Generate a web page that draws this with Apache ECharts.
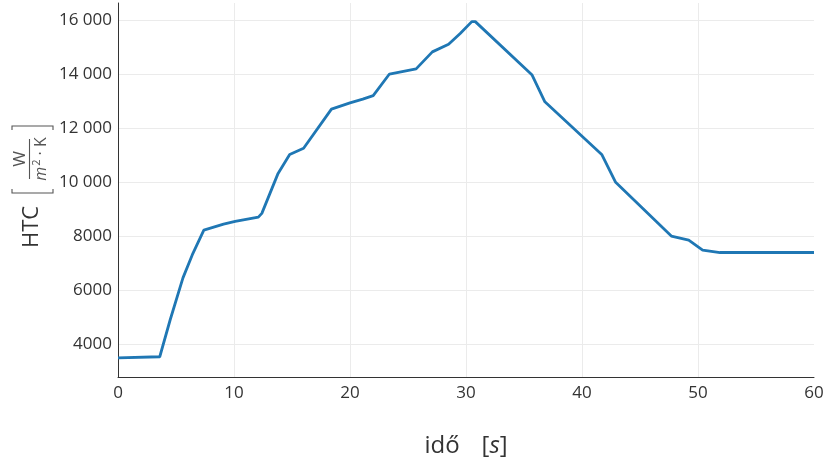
<!DOCTYPE html>
<html>
<head>
<meta charset="utf-8">
<script src="https://cdn.jsdelivr.net/npm/echarts@6/dist/echarts.min.js"></script>
<style>
  html, body { margin: 0; padding: 0; background: #fff; }
  #chart { width: 827px; height: 464px; }
</style>
</head>
<body>
<div id="chart"></div>
<script>
// Heat transfer coefficient over time
const timeS = [0, 3.6, 4.5, 5.6, 6.4, 7.4, 9.1, 10.1, 12.1, 12.4, 13.8, 14.8, 16.0, 18.4, 20.0, 21.1, 22.0, 23.4, 25.7, 27.1, 28.5, 29.5, 30.5, 30.8, 35.7, 36.8, 41.7, 42.9, 47.7, 49.2, 50.4, 51.9, 60];
const htcValues = [3490, 3530, 4900, 6450, 7300, 8220, 8440, 8540, 8700, 8840, 10320, 11020, 11250, 12700, 12930, 13070, 13200, 14000, 14190, 14820, 15100, 15500, 15940, 15940, 13960, 12970, 11020, 9990, 8000, 7850, 7480, 7390, 7390];
const yTicks = [4000, 6000, 8000, 10000, 12000, 14000, 16000];
const xTicks = [0, 10, 20, 30, 40, 50, 60];

const FONT = '"Open Sans", "Noto Sans", sans-serif';
const INK = '#333';

function fmtThousands(v) {
  const s = String(Math.round(v));
  if (s.length < 5) return s;
  return s.replace(/\B(?=(\d{3})+(?!\d))/g, ' ');
}

const chart = echarts.init(document.getElementById('chart'), null, { renderer: 'canvas' });

const option = {
  animation: false,
  backgroundColor: '#fff',
  grid: { left: 118, right: 13, top: 3, bottom: 87, containLabel: false, outerBoundsMode: 'none' },
  xAxis: {
    type: 'value',
    min: xTicks[0],
    max: xTicks[xTicks.length - 1],
    interval: 10,
    name: 'idő{gap|}[{it|s}]',
    nameLocation: 'middle',
    nameGap: 57,
    nameTextStyle: {
      fontFamily: FONT, fontSize: 24, color: INK,
      rich: {
        it: { fontFamily: FONT, fontSize: 24, fontStyle: 'italic', color: INK },
        gap: { width: 22 }
      }
    },
    axisLine: { show: true, lineStyle: { color: '#333', width: 1 } },
    axisTick: { show: false },
    axisLabel: { fontFamily: FONT, fontSize: 17, color: INK, margin: 8 },
    splitLine: { show: true, showMinLine: false, showMaxLine: false, lineStyle: { color: '#ebebeb', width: 1 } }
  },
  yAxis: {
    type: 'value',
    min: 2780,
    max: 16630,
    splitNumber: 7,
    axisLine: { show: true, lineStyle: { color: '#333', width: 1 } },
    axisTick: { show: false },
    axisLabel: {
      fontFamily: FONT, fontSize: 17, color: INK, margin: 6,
      showMinLabel: false, showMaxLabel: false,
      formatter: function (v) { return yTicks.indexOf(v) >= 0 ? fmtThousands(v) : ''; }
    },
    splitLine: { show: true, showMinLine: false, showMaxLine: false, lineStyle: { color: '#ebebeb', width: 1 } }
  },
  series: [{
    type: 'line',
    data: timeS.map((t, i) => [t, htcValues[i]]),
    showSymbol: false,
    lineStyle: { color: '#1f77b4', width: 2.8 },
    itemStyle: { color: '#1f77b4' },
    z: 3
  }],
  graphic: [{
    // rotated y-axis title: HTC [ W / (m²·K) ]
    type: 'group',
    x: 32,
    y: 186,
    rotation: Math.PI / 2,
    children: [
      { type: 'text', x: -62, y: 0, style: { text: 'HTC', fontFamily: FONT, fontSize: 22, fill: INK, align: 'left', verticalAlign: 'middle' } },
      { type: 'polyline', shape: { points: [[-3, -20], [-7, -20], [-7, 21], [-3, 21]] }, style: { stroke: '#555', lineWidth: 1.1, fill: null } },
      { type: 'text', x: 27, y: -12, style: { text: 'W', fontFamily: FONT, fontSize: 17, fill: '#555', align: 'center', verticalAlign: 'middle' } },
      { type: 'line', shape: { x1: 7, y1: -2.5, x2: 47, y2: -2.5 }, style: { stroke: '#555', lineWidth: 1.1 } },
      { type: 'text', x: 27, y: 9, style: {
          text: '{it|m}{sup|2}{n| · K}', align: 'center', verticalAlign: 'middle',
          rich: {
            it: { fontFamily: FONT, fontSize: 16, fontStyle: 'italic', fill: '#555', color: '#555' },
            sup: { fontFamily: FONT, fontSize: 11, fill: '#555', color: '#555', verticalAlign: 'top', padding: [0, 0, 8, 1] },
            n: { fontFamily: FONT, fontSize: 16, fill: '#555', color: '#555' }
          }
      } },
      { type: 'polyline', shape: { points: [[56, -20], [60, -20], [60, 21], [56, 21]] }, style: { stroke: '#555', lineWidth: 1.1, fill: null } }
    ]
  }]
};

chart.setOption(option);
</script>
</body>
</html>
